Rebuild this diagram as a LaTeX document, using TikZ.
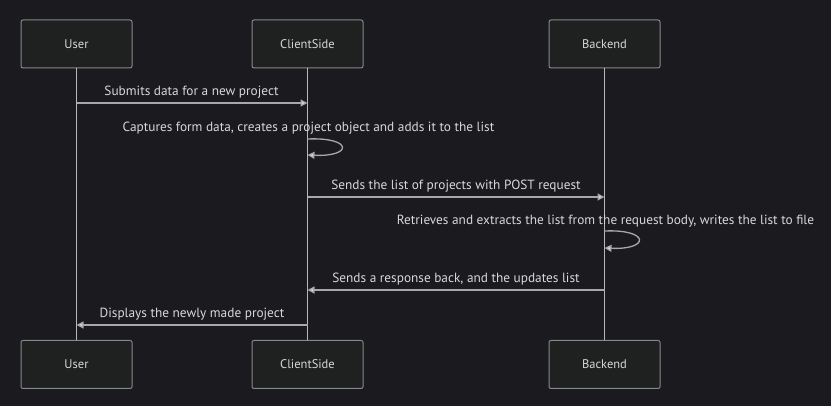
\documentclass[tikz,border=0pt]{standalone}
\usepackage{fontspec}
\setmainfont{PT Sans}
\usetikzlibrary{arrows.meta}
\definecolor{bg}{HTML}{1B1B1F}
\definecolor{boxfill}{HTML}{1F2020}
\definecolor{boxline}{HTML}{85888A}
\definecolor{life}{HTML}{B8B8B8}
\definecolor{msg}{HTML}{A8A8A8}
\definecolor{txt}{HTML}{D8D8D8}
\tikzset{
  actor/.style={draw=boxline, line width=1pt, fill=boxfill, rounded corners=2pt,
    minimum width=111pt, minimum height=48pt, inner sep=0pt,
    text=txt, font=\fontsize{12.5}{14}\selectfont},
  lifeline/.style={draw=life, line width=1.5pt},
  msgline/.style={draw=msg, line width=1.3pt, -{Triangle[length=7pt,width=7pt,fill=txt]}},
  msglabel/.style={text=txt, font=\fontsize{13.3}{15}\selectfont, inner sep=0pt}
}
\begin{document}
\begin{tikzpicture}[x=1pt,y=-1pt]
\useasboundingbox[fill=bg] (0,0) rectangle (831,406);
% actors top
\node[actor] (ut) at (76.5,44) {User};
\node[actor] (ct) at (307.5,44) {ClientSide};
\node[actor] (bt) at (604.5,44) {Backend};
% actors bottom
\node[actor] (ub) at (76.5,364.5) {User};
\node[actor] (cb) at (307.5,364.5) {ClientSide};
\node[actor] (bb) at (604.5,364.5) {Backend};
% lifelines
\draw[lifeline] (ut.south) -- (ub.north);
\draw[lifeline] (ct.south) -- (cb.north);
\draw[lifeline] (bt.south) -- (bb.north);
% message points
\coordinate (m1s) at (76.5,103);
\coordinate (m1e) at (307.5,103);
\coordinate (l1s) at (307.5,139);
\coordinate (l1e) at (307.5,155);
\coordinate (m3s) at (307.5,197);
\coordinate (m3e) at (604.5,197);
\coordinate (l2s) at (604.5,231);
\coordinate (l2e) at (604.5,248);
\coordinate (m5s) at (604.5,290);
\coordinate (m5e) at (307.5,290);
\coordinate (m6s) at (307.5,325);
\coordinate (m6e) at (76.5,325);
% messages
\draw[msgline] (m1s) -- (m1e);
\node[msglabel] (t1) at (191.5,92) {Submits data for a new project};
\draw[msgline] (l1s) .. controls (353,137) and (353,157) .. (l1e);
\node[msglabel] (t2) at (308.5,128) {Captures form data, creates a project object and adds it to the list};
\draw[msgline] (m3s) -- (m3e);
\node[msglabel] (t3) at (456,186) {Sends the list of projects with POST request};
\draw[msgline] (l2s) .. controls (650,229) and (650,250) .. (l2e);
\node[msglabel] (t4) at (605.5,221) {Retrieves and extracts the list from the request body, writes the list to file};
\draw[msgline] (m5s) -- (m5e);
\node[msglabel] (t5) at (456,279) {Sends a response back, and the updates list};
\draw[msgline] (m6s) -- (m6e);
\node[msglabel] (t6) at (192,314) {Displays the newly made project};
\end{tikzpicture}
\end{document}
